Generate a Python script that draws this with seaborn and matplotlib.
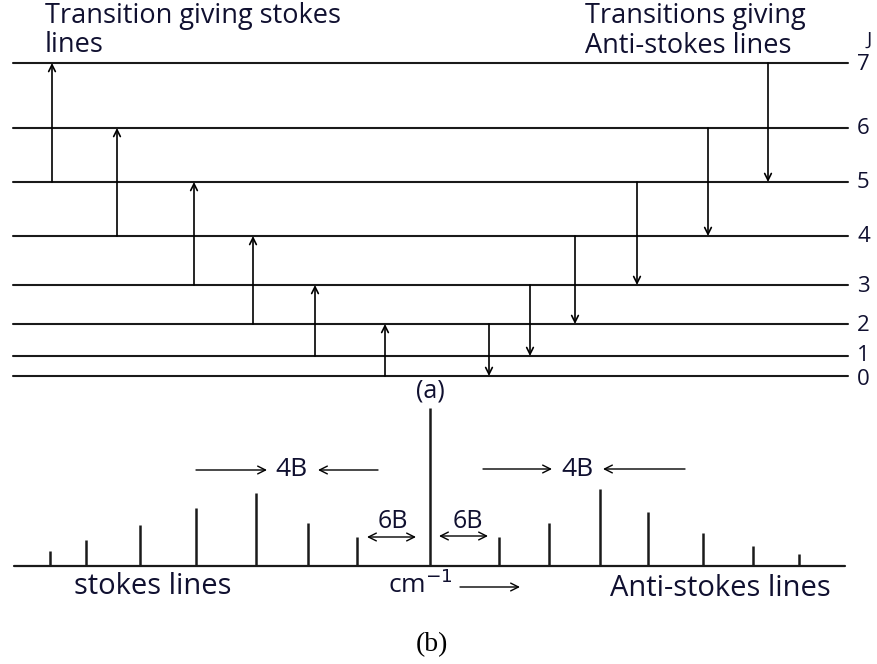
import matplotlib
matplotlib.use("Agg")
import matplotlib.pyplot as plt
import seaborn as sns
import pandas as pd

# ---------------- data ----------------
J_levels = [0, 1, 2, 3, 4, 5, 6, 7]
level_energy = [0, 20, 52, 91, 140, 194, 248, 313]   # drawn level heights (arb. units)

stokes_from = [5, 4, 3, 2, 1, 0]
stokes_to = [7, 6, 5, 4, 3, 2]
stokes_arrow_x = [52, 117, 194, 253, 315, 385]

anti_from = [2, 3, 4, 5, 6, 7]
anti_to = [0, 1, 2, 3, 4, 5]
anti_arrow_x = [489, 530, 575, 637, 708, 768]

stokes_pos = [50, 86, 140, 196, 256, 308, 357]
stokes_int = [15, 26, 41, 58, 73, 43, 29]
rayleigh_pos = [430]
rayleigh_int = [158]
anti_pos = [499, 549, 600, 648, 703, 753, 799]
anti_int = [29, 43, 77, 54, 33, 20, 12]

FONT = ["Open Sans", "DejaVu Sans"]
TXT = "#101030"

sns.set_theme(style="white")
plt.rcParams["font.family"] = FONT

W, H = 877, 664
fig = plt.figure(figsize=(W / 100, H / 100), dpi=100)
fig.patch.set_facecolor("white")

# top panel: energy levels (pixels 0..400)
ax1 = fig.add_axes([0, 1 - 400 / H, 1, 400 / H])

E = dict(zip(J_levels, level_energy))
rows = []
for j, e in zip(J_levels, level_energy):
    rows.append({"x": 13, "E": e, "J": j})
    rows.append({"x": 848, "E": e, "J": j})
df_levels = pd.DataFrame(rows)
sns.lineplot(data=df_levels, x="x", y="E", units="J", estimator=None,
             color="#1a1a1a", linewidth=1.5, ax=ax1, legend=False)
ax1.set_xlim(0, W)
ax1.set_ylim(-24, 376)
ax1.axis("off")

nudge = {0: -2, 1: 2}
for j, e in zip(J_levels, level_energy):
    ax1.text(857, e - 1 + nudge.get(j, 0), str(j), fontsize=16, ha="left",
             va="center", color=TXT)
ax1.text(869, 336, "J", fontsize=14, ha="center", va="center", color=TXT)

arrow_kw = dict(arrowstyle="->", color="black", lw=1.2, mutation_scale=12,
                shrinkA=0, shrinkB=0)
for x, a, b in zip(stokes_arrow_x, stokes_from, stokes_to):
    ax1.annotate("", xy=(x, E[b]), xytext=(x, E[a]), arrowprops=arrow_kw)
for x, a, b in zip(anti_arrow_x, anti_from, anti_to):
    ax1.annotate("", xy=(x, E[b]), xytext=(x, E[a]), arrowprops=arrow_kw)

ax1.text(45, 353, "Transition giving stokes", fontsize=19.5, ha="left",
         va="baseline", color=TXT)
ax1.text(45, 324, "lines", fontsize=19.5, ha="left", va="baseline", color=TXT)
ax1.text(585, 353, "Transitions giving", fontsize=19.5, ha="left",
         va="baseline", color=TXT)
ax1.text(585, 323, "Anti-stokes lines", fontsize=19.5, ha="left",
         va="baseline", color=TXT)
ax1.text(430, -15, "(a)", fontsize=18, ha="center", va="center", color=TXT)

# bottom panel: spectrum (pixels 400..664)
ax2 = fig.add_axes([0, 0, 1, 264 / H])
ax2.set_xlim(0, W)
ax2.set_ylim(-98, 166)
ax2.axis("off")

ax2.plot([14, 845], [0, 0], color="#1a1a1a", lw=1.6)
ax2.vlines(stokes_pos, 0, stokes_int, color="#1a1a1a", lw=1.8)
ax2.vlines(rayleigh_pos, 0, rayleigh_int, color="#1a1a1a", lw=1.8)
ax2.vlines(anti_pos, 0, anti_int, color="#1a1a1a", lw=1.8)

akw = dict(color="black", lw=1.0, mutation_scale=14, shrinkA=0, shrinkB=0)
ax2.annotate("", xy=(267, 96), xytext=(196, 96), arrowprops=dict(arrowstyle="->", **akw))
ax2.annotate("", xy=(318, 96), xytext=(378, 96), arrowprops=dict(arrowstyle="->", **akw))
ax2.text(291, 96, "4B", fontsize=19, ha="center", va="center", color=TXT)
ax2.annotate("", xy=(552, 97), xytext=(483, 97), arrowprops=dict(arrowstyle="->", **akw))
ax2.annotate("", xy=(603, 97), xytext=(685, 97), arrowprops=dict(arrowstyle="->", **akw))
ax2.text(577, 97, "4B", fontsize=19, ha="center", va="center", color=TXT)

ax2.annotate("", xy=(416, 29), xytext=(367, 29), arrowprops=dict(arrowstyle="<->", **akw))
ax2.text(393, 45, "6B", fontsize=18, ha="center", va="center", color=TXT)
ax2.annotate("", xy=(488, 30), xytext=(439, 30), arrowprops=dict(arrowstyle="<->", **akw))
ax2.text(468, 45, "6B", fontsize=18, ha="center", va="center", color=TXT)

ax2.text(153, -20, "stokes lines", fontsize=21, ha="center", va="center", color=TXT)
ax2.text(420, -19, "cm$^{-1}$", fontsize=19, ha="center", va="center", color=TXT)
ax2.annotate("", xy=(520, -21), xytext=(460, -21), arrowprops=dict(arrowstyle="->", **akw))
ax2.text(720, -22, "Anti-stokes lines", fontsize=21, ha="center", va="center", color=TXT)
ax2.text(432, -79, "(b)", fontsize=20, ha="center", va="center", color="black",
         family=["Liberation Serif", "DejaVu Serif"])

fig.savefig("out.png", dpi=100, facecolor="white")
